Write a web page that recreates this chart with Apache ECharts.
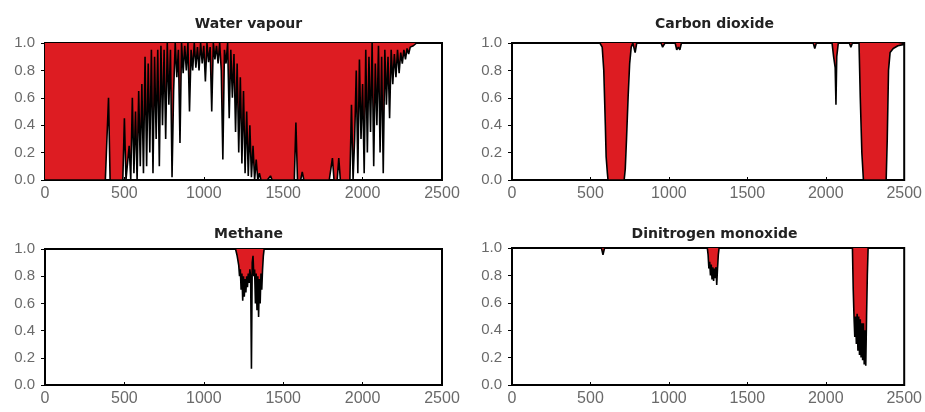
<!DOCTYPE html>
<html><head><meta charset="utf-8">
<script src="https://cdn.jsdelivr.net/npm/echarts@6/dist/echarts.min.js"></script>
<style>html,body{margin:0;padding:0;background:#fff}#c{width:925px;height:412px}</style>
</head><body><div id="c"></div>
<script>
// Tick labels / titles
const xTicks = [0, 500, 1000, 1500, 2000, 2500];
const yTicks = [0.0, 0.2, 0.4, 0.6, 0.8, 1.0];
const panelTitles = ['Water vapour', 'Carbon dioxide', 'Methane', 'Dinitrogen monoxide'];

// Water vapour transmittance, sampled every 10 cm-1 from 0 to 2500
const h2oStep = 10;
const h2oT = [
  0,0,0,0,0,0,0,0,0,0,
  0,0,0,0,0,0,0,0,0,0,
  0,0,0,0,0,0,0,0,0,0,
  0,0,0,0,0,0,0,0,0,0,
  0.6,0,0,0,0,0,0,0,0,0,
  0.45,0,0,0.25,0,0.6,0.05,0.5,0,0.65,
  0.1,0.7,0.05,0.9,0.1,0.85,0.2,0.95,0.05,0.9,
  0.3,0.95,0.1,0.98,0.4,0.95,0.3,1.0,0.55,0.95,
  0.02,0.65,1.0,0.75,0.95,0.27,1.0,0.78,0.98,0.8,
  1.0,0.5,0.95,0.8,1.0,0.82,0.97,0.8,1.0,0.85,
  0.98,0.72,1.0,0.86,0.97,0.5,1.0,0.88,0.98,0.85,
  1.0,0.8,0.15,0.95,0.85,1.0,0.45,0.95,0.6,0.92,
  0.35,0.85,0.2,0.75,0.12,0.65,0.05,0.5,0.03,0.4,
  0.02,0.25,0,0.15,0,0.05,0,0,0,0,
  0,0,0.03,0,0,0,0,0,0,0,
  0,0,0,0,0,0,0,0,0.42,0,
  0,0,0.06,0,0,0,0,0,0,0,
  0,0,0,0,0,0,0,0,0,0,
  0,0.16,0,0,0,0.16,0,0,0,0,
  0,0,0,0.55,0,0.3,0.8,0.05,0.88,0.3,
  0.7,0.05,0.95,0.2,0.9,0.35,1.0,0.1,0.85,0.4,
  0.98,0.2,0.9,0.05,0.95,0.55,0.9,0.45,0.95,0.7,
  0.92,0.75,0.95,0.78,0.93,0.85,0.95,0.88,0.96,0.92,
  0.97,0.96,0.98,0.99,1,1,1,1,1,1,
  1,1,1,1,1,1,1,1,1,1,
  1
];

// Carbon dioxide [wavenumber, transmittance]
const co2 = [
  [0,1],[560,1],[575,0.97],[585,0.8],[595,0.4],[600,0.17],[608,0.05],[612,0],
  [715,0],[722,0.08],[730,0.3],[740,0.6],[750,0.85],[760,0.97],[770,1],[785,0.93],[795,1],
  [950,1],[960,0.97],[975,1],[1040,1],[1050,0.95],[1060,0.97],[1070,0.95],[1080,1],
  [1920,1],[1930,0.96],[1940,1],[2040,1],[2050,0.9],[2060,0.82],[2065,0.55],[2070,0.9],[2080,1],
  [2150,1],[2160,0.97],[2170,1],[2212,1],[2220,0.6],[2230,0.2],[2240,0],
  [2385,0],[2392,0.3],[2400,0.8],[2410,0.93],[2430,0.96],[2460,0.98],[2500,0.99]
];

// Methane [wavenumber, transmittance]
const ch4 = [
  [0,1],[1200,1],[1210,0.95],[1220,0.88],[1225,0.8],[1230,0.85],[1235,0.7],[1240,0.82],
  [1245,0.62],[1250,0.8],[1255,0.65],[1260,0.78],[1265,0.68],[1270,0.8],[1275,0.72],
  [1280,0.82],[1285,0.75],[1290,0.85],[1295,0.8],[1300,0.12],[1305,0.9],[1310,0.95],
  [1315,0.8],[1320,0.85],[1325,0.6],[1330,0.82],[1335,0.55],[1340,0.8],[1345,0.5],
  [1350,0.78],[1355,0.6],[1360,0.82],[1365,0.7],[1370,0.85],[1375,0.95],[1380,1],[2500,1]
];

// Dinitrogen monoxide [wavenumber, transmittance]
const n2o = [
  [0,1],[570,1],[580,0.95],[590,1],[1245,1],[1250,0.95],[1255,0.85],[1260,0.9],[1265,0.8],
  [1270,0.88],[1275,0.77],[1280,0.86],[1285,0.76],[1290,0.85],[1295,0.78],[1300,0.86],
  [1305,0.73],[1310,0.85],[1315,0.95],[1320,1],
  [2170,1],[2175,0.7],[2180,0.5],[2185,0.35],[2190,0.5],[2195,0.3],[2200,0.52],[2205,0.25],
  [2210,0.5],[2215,0.22],[2220,0.48],[2225,0.2],[2230,0.45],[2235,0.18],[2240,0.45],
  [2245,0.15],[2250,0.4],[2255,0.14],[2260,0.5],[2265,0.8],[2270,1],[2500,1]
];

const h2o = h2oT.map((t, i) => [i * h2oStep, t]);
const panelData = [h2o, co2, ch4, n2o];

const grids = [
  {left: 45, top: 43, width: 397, height: 137},
  {left: 512, top: 43, width: 395, height: 137},
  {left: 45, top: 249, width: 397, height: 136},
  {left: 512, top: 248, width: 395, height: 137}
];

const chart = echarts.init(document.getElementById('c'), null, {renderer: 'canvas'});
const option = {
  animation: false,
  backgroundColor: '#fff',
  title: grids.map((g, i) => ({
    text: panelTitles[i],
    left: g.left + g.width / 2,
    top: i < 2 ? 12 : 222,
    textAlign: 'center',
    textStyle: {fontFamily: 'DejaVu Sans', fontWeight: 'bold', fontSize: 14, color: '#222'}
  })),
  grid: grids.map(g => Object.assign({show: true, borderColor: '#000', borderWidth: 2, backgroundColor: 'transparent'}, g)),
  xAxis: grids.map((g, i) => ({
    type: 'value', gridIndex: i, min: xTicks[0], max: xTicks[xTicks.length - 1], interval: 500,
    axisLine: {show: false},
    axisTick: {show: true, inside: true, length: 3, lineStyle: {color: '#000'}},
    splitLine: {show: false},
    axisLabel: {fontFamily: 'Liberation Sans', fontSize: 16, color: '#6a6a6a', margin: 6,
      formatter: v => String(v)}
  })),
  yAxis: grids.map((g, i) => ({
    type: 'value', gridIndex: i, min: yTicks[0], max: yTicks[yTicks.length - 1], interval: 0.2,
    axisLine: {show: false},
    axisTick: {show: true, inside: false, length: 4, lineStyle: {color: '#000'}},
    splitLine: {show: false},
    axisLabel: {fontFamily: 'Liberation Sans', fontSize: 15, color: '#6a6a6a', margin: 10,
      formatter: v => v.toFixed(1)}
  })),
  series: panelData.map((d, i) => ({
    type: 'line', xAxisIndex: i, yAxisIndex: i, data: d,
    symbol: 'none', showSymbol: false, silent: true,
    lineStyle: {color: '#000', width: 1.6},
    areaStyle: {origin: 'end', color: '#dd1c22', opacity: 1}
  }))
};
chart.setOption(option);
</script>
</body></html>
